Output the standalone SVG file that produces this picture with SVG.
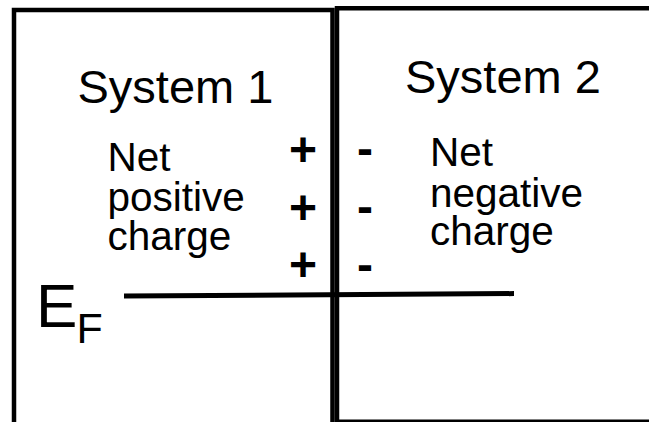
<svg xmlns="http://www.w3.org/2000/svg" width="649" height="422" viewBox="0 0 649 422">
  <style>
    .edge { fill: none; stroke: #000; stroke-linecap: square; }
    .label { font-family: "Liberation Sans", Arial, sans-serif; fill: #000; }
    .title { font-size: 47px; }
    .body { font-size: 40.5px; }
    .sign { font-family: "Liberation Sans", Arial, sans-serif; font-weight: bold; font-size: 48px; text-anchor: middle; fill: #000; }
  </style>
  <rect width="649" height="422" fill="#fff"/>

  <!-- System 1: box open at the bottom -->
  <g id="system1">
    <path class="edge" d="M14 424 V10 H332.5 V424" stroke-width="4.5"/>
    <text class="label title" x="77.5" y="103">System 1</text>
    <text class="label body" x="107.5" y="171">Net<tspan x="107.5" y="211">positive</tspan><tspan x="107.5" y="250">charge</tspan></text>
    <text class="sign" x="303" y="166">+</text>
    <text class="sign" x="303" y="224">+</text>
    <text class="sign" x="303" y="281">+</text>
  </g>

  <!-- System 2: box running off the right edge -->
  <g id="system2">
    <path class="edge" d="M337 424 V8.3 H652" stroke-width="4.5"/>
    <path class="edge" d="M337 421 H652" stroke-width="3"/>
    <text class="label title" x="405" y="93">System 2</text>
    <text class="label body" x="430" y="166">Net<tspan x="430" y="206.5">negative</tspan><tspan x="430" y="245">charge</tspan></text>
    <text class="sign" x="365" y="164.5">-</text>
    <text class="sign" x="365" y="222.5">-</text>
    <text class="sign" x="365" y="280.5">-</text>
  </g>

  <!-- Fermi level across both systems -->
  <g id="fermi-level">
    <line x1="124" y1="296" x2="514" y2="293.6" stroke="#000" stroke-width="5"/>
    <text class="label" x="36" y="327.3" font-size="62">E</text>
    <text class="label" x="76.5" y="343.3" font-size="43">F</text>
  </g>
</svg>
